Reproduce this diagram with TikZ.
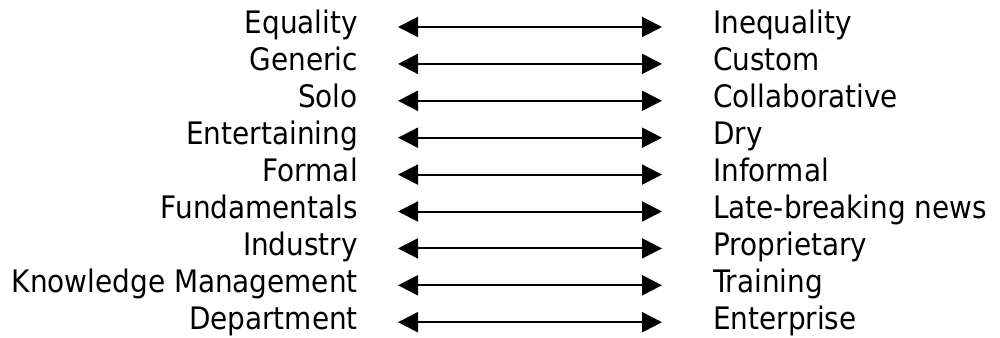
\documentclass[tikz,border=0pt]{standalone}
\usepackage{fontspec}
\setmainfont{DejaVu Sans Condensed}
\usetikzlibrary{arrows.meta}
\begin{document}
\begin{tikzpicture}[x=1pt,y=-1pt,
  lbl/.style={inner sep=0pt,text height=20pt,text depth=6pt,font=\fontsize{31}{31}\selectfont},
  leftlbl/.style={lbl,anchor=base east},
  rightlbl/.style={lbl,anchor=base west},
  link/.style={line width=2pt,{Triangle[length=20pt,width=20pt]}-{Triangle[length=20pt,width=20pt]},
    shorten <=40pt,shorten >=51pt}]
\useasboundingbox (0,0) rectangle (1000,337);
\foreach \i/\a/\b in {1/Equality/Inequality,2/Generic/Custom,3/Solo/Collaborative,
  4/Entertaining/Dry,5/Formal/Informal,6/Fundamentals/Late-breaking news,
  7/Industry/Proprietary,8/Knowledge Management/Training,9/Department/Enterprise}{
  \node[leftlbl] (l\i) at (358,{34+(\i-1)*36.9}) {\a};
  \node[rightlbl] (r\i) at (713,{34+(\i-1)*36.9}) {\b};
  \draw[link] (l\i.east) -- (r\i.west);
}
\end{tikzpicture}
\end{document}
